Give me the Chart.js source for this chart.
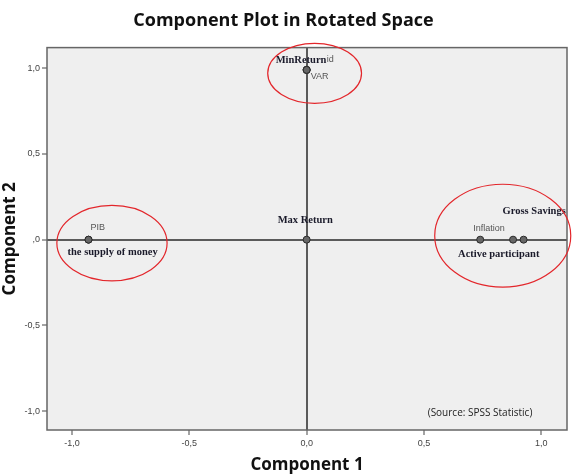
<!DOCTYPE html>
<html>
<head>
<meta charset="utf-8">
<script src="https://cdn.jsdelivr.net/npm/chart.js@4"></script>
<style>
  html, body { margin: 0; padding: 0; background: #fff; }
  #wrap { width: 577px; height: 475px; position: relative; }
</style>
</head>
<body>
<div id="wrap"><canvas id="plot"></canvas></div>
<script>
// ======================================
// Data (component loadings)
// ======================================

const pointNames = ["PIB", "the supply of money", "Max Return", "VAR", "MinReturn", "id", "Inflation", "Active participant", "Gross Savings"];
const comp1 = [-0.93, -0.93, 0.00, 0.00, 0.00, 0.00, 0.74, 0.88, 0.925];
const comp2 = [0.00, 0.00, 0.00, 0.99, 0.99, 0.99, 0.00, 0.00, 0.00];
const tickValues = [-1, -0.5, 0, 0.5, 1];

// label placement (pixels from the point) and font style
const labelOffsets = [[2, -12], [-21, 13], [-29, -19], [4, 7], [-31, -10], [20, -10], [-7, -11], [-55, 15], [-21, -28]];
const labelSerif = [false, true, true, false, true, false, false, true, true];

// red hand-drawn ellipses: centre x, centre y, radius x, radius y (data units)
const ellipses = [
    [-0.83, -0.02, 0.235, 0.22],
    [0.034, 0.97, 0.20, 0.175],
    [0.836, 0.023, 0.29, 0.30]
];

function fmtTick(v, zeroText){
    if(v === 0) return zeroText;
    return v.toFixed(1).replace(".", ",");
}

// ======================================
// Plugin: background, border, labels, ellipses
// ======================================

const decorPlugin = {
    id: "decor",
    beforeDraw(chart){
        const a = chart.chartArea;
        const ctx = chart.ctx;
        ctx.save();
        ctx.fillStyle = "#efefef";
        ctx.fillRect(a.left, a.top, a.right - a.left, a.bottom - a.top);
        ctx.restore();
    },
    afterDraw(chart){
        const a = chart.chartArea;
        const ctx = chart.ctx;
        const xs = chart.scales.x;
        const ys = chart.scales.y;
        ctx.save();

        ctx.strokeStyle = "#666";
        ctx.lineWidth = 1.5;
        ctx.strokeRect(a.left, a.top, a.right - a.left, a.bottom - a.top);

        // point labels
        ctx.textBaseline = "middle";
        ctx.textAlign = "left";
        pointNames.forEach((name, i) => {
            const px = xs.getPixelForValue(comp1[i]) + labelOffsets[i][0];
            const py = ys.getPixelForValue(comp2[i]) + labelOffsets[i][1];
            if(labelSerif[i]){
                ctx.font = "bold 10.5px 'Liberation Serif'";
                ctx.fillStyle = "#1a1a2a";
            } else {
                ctx.font = "9px 'Liberation Sans'";
                ctx.fillStyle = "#555";
            }
            ctx.fillText(name, px, py);
        });

        // ellipses
        ctx.strokeStyle = "#e3262b";
        ctx.lineWidth = 1.2;
        ellipses.forEach(e => {
            const cx = xs.getPixelForValue(e[0]);
            const cy = ys.getPixelForValue(e[1]);
            const rx = Math.abs(xs.getPixelForValue(e[0] + e[2]) - cx);
            const ry = Math.abs(ys.getPixelForValue(e[1] + e[3]) - cy);
            ctx.beginPath();
            ctx.ellipse(cx, cy, rx, ry, 0, 0, Math.PI * 2);
            ctx.stroke();
        });

        // source note
        ctx.font = "10px 'Open Sans'";
        ctx.fillStyle = "#222";
        ctx.textAlign = "center";
        ctx.fillText("(Source: SPSS Statistic)", 480, 413);

        ctx.restore();
    }
};

// ======================================
// Chart
// ======================================

const zeroGrid = {
    color: c => (c.tick && c.tick.value === 0) ? "#5a5a5a" : "rgba(0,0,0,0)",
    lineWidth: c => (c.tick && c.tick.value === 0) ? 2 : 0,
    tickColor: "#666",
    tickWidth: 1.2,
    tickLength: 5,
    drawOnChartArea: true
};

new Chart(document.getElementById("plot"), {
    type: "scatter",
    data: {
        datasets: [{
            data: comp1.map((x, i) => ({ x: x, y: comp2[i] })),
            pointRadius: 3.5,
            pointHoverRadius: 3.5,
            backgroundColor: "#666",
            borderColor: "#2a2a2a",
            borderWidth: 1
        }]
    },
    options: {
        responsive: true,
        maintainAspectRatio: false,
        animation: false,
        events: [],
        layout: { padding: { left: 0, right: 10, top: 0, bottom: 0 } },
        plugins: {
            legend: { display: false },
            tooltip: { enabled: false },
            title: {
                display: true,
                text: "Component Plot in Rotated Space",
                font: { family: "'Open Sans'", size: 18, weight: "bold" },
                color: "#111",
                padding: { top: 10, bottom: 16 }
            }
        },
        scales: {
            x: {
                type: "linear",
                min: -1.107,
                max: 1.11,
                afterBuildTicks: s => { s.ticks = tickValues.map(v => ({ value: v })); },
                afterFit: s => { s.height = 45; },
                grid: zeroGrid,
                border: { display: false },
                ticks: {
                    callback: v => fmtTick(v, "0,0"),
                    font: { family: "'Liberation Sans'", size: 9 },
                    color: "#444",
                    padding: 3,
                    maxRotation: 0
                },
                title: {
                    display: true,
                    text: "Component 1",
                    font: { family: "'Open Sans'", size: 17, weight: "bold" },
                    color: "#111",
                    padding: { top: 2, bottom: 0 }
                }
            },
            y: {
                type: "linear",
                min: -1.11,
                max: 1.12,
                afterBuildTicks: s => { s.ticks = tickValues.map(v => ({ value: v })); },
                afterFit: s => { s.width = 47; },
                grid: zeroGrid,
                border: { display: false },
                ticks: {
                    callback: v => fmtTick(v, ",0"),
                    font: { family: "'Liberation Sans'", size: 9 },
                    color: "#444",
                    padding: 2
                },
                title: {
                    display: true,
                    text: "Component 2",
                    font: { family: "'Open Sans'", size: 17, weight: "bold" },
                    color: "#111",
                    padding: { top: 0, bottom: 0 }
                }
            }
        }
    },
    plugins: [decorPlugin]
});
</script>
</body>
</html>
